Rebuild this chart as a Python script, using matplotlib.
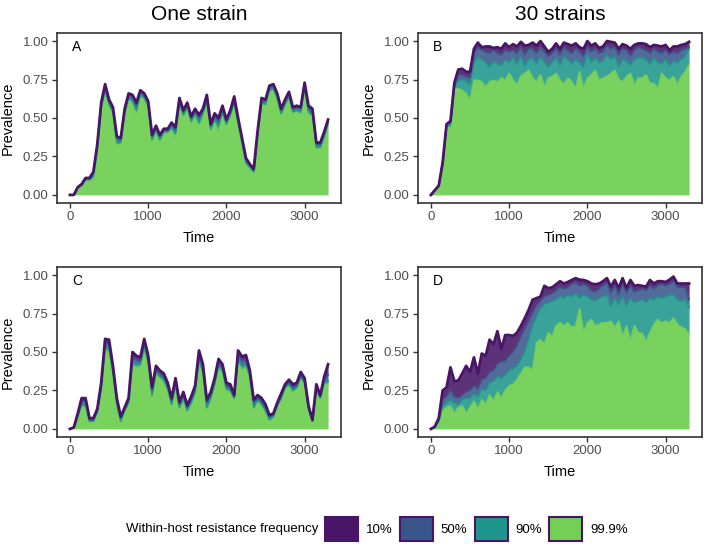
import numpy as np
import matplotlib.pyplot as plt
from matplotlib.patches import Patch

plt.rcParams['font.family'] = ['Liberation Sans', 'DejaVu Sans']

# time points (every 50 time units)
t = np.arange(0, 3301, 50)

freq_labels = ["10%", "50%", "90%", "99.9%"]
colors = ["#481567", "#39568C", "#1F968B", "#73D055"]

# panel A: one strain, top row
A10 = [0, 0, 0.05, 0.07, 0.11, 0.11, 0.15, 0.33, 0.60, 0.72,
       0.62, 0.57, 0.38, 0.37, 0.56, 0.66, 0.65, 0.60, 0.68, 0.66,
       0.61, 0.39, 0.45, 0.39, 0.43, 0.43, 0.47, 0.44, 0.63, 0.55,
       0.60, 0.51, 0.56, 0.52, 0.56, 0.65, 0.46, 0.53, 0.50, 0.58,
       0.49, 0.55, 0.64, 0.50, 0.37, 0.24, 0.20, 0.17, 0.42, 0.63,
       0.62, 0.71, 0.72, 0.66, 0.56, 0.62, 0.67, 0.57, 0.58, 0.57,
       0.73, 0.58, 0.56, 0.34, 0.34, 0.41, 0.49]
A50 = [0, 0, 0.05, 0.07, 0.11, 0.11, 0.14, 0.32, 0.59, 0.70,
       0.61, 0.56, 0.37, 0.36, 0.55, 0.65, 0.64, 0.58, 0.67, 0.65,
       0.60, 0.38, 0.44, 0.38, 0.42, 0.42, 0.46, 0.42, 0.62, 0.54,
       0.59, 0.50, 0.55, 0.50, 0.55, 0.63, 0.45, 0.51, 0.48, 0.56,
       0.48, 0.54, 0.62, 0.49, 0.36, 0.23, 0.19, 0.16, 0.41, 0.62,
       0.61, 0.70, 0.71, 0.65, 0.55, 0.61, 0.66, 0.56, 0.57, 0.56,
       0.72, 0.56, 0.55, 0.33, 0.33, 0.40, 0.48]
A90 = [0, 0, 0.05, 0.06, 0.10, 0.10, 0.12, 0.30, 0.57, 0.68,
       0.59, 0.54, 0.34, 0.34, 0.53, 0.63, 0.61, 0.55, 0.65, 0.63,
       0.58, 0.36, 0.42, 0.36, 0.41, 0.41, 0.44, 0.40, 0.60, 0.52,
       0.57, 0.48, 0.53, 0.47, 0.53, 0.61, 0.43, 0.49, 0.45, 0.54,
       0.46, 0.52, 0.60, 0.47, 0.34, 0.21, 0.18, 0.15, 0.39, 0.60,
       0.59, 0.68, 0.69, 0.63, 0.53, 0.59, 0.64, 0.54, 0.55, 0.54,
       0.70, 0.54, 0.53, 0.31, 0.31, 0.38, 0.47]
A999 = [0, 0, 0.04, 0.06, 0.09, 0.09, 0.10, 0.29, 0.55, 0.66,
        0.57, 0.52, 0.32, 0.33, 0.51, 0.62, 0.59, 0.52, 0.64, 0.62,
        0.57, 0.35, 0.41, 0.34, 0.40, 0.40, 0.42, 0.37, 0.58, 0.51,
        0.55, 0.46, 0.51, 0.45, 0.51, 0.60, 0.42, 0.47, 0.40, 0.52,
        0.45, 0.50, 0.59, 0.46, 0.33, 0.20, 0.17, 0.14, 0.38, 0.59,
        0.58, 0.67, 0.68, 0.62, 0.51, 0.57, 0.62, 0.53, 0.54, 0.52,
        0.68, 0.52, 0.51, 0.30, 0.30, 0.35, 0.46]

# panel B: 30 strains, top row
B10 = [0, 0.03, 0.06, 0.21, 0.46, 0.48, 0.73, 0.815, 0.82, 0.80,
       0.80, 0.95, 0.99, 0.96, 0.965, 0.965, 0.955, 0.96, 0.95, 0.985,
       0.96, 0.98, 0.965, 0.995, 0.97, 0.975, 0.99, 0.97, 1.0, 0.965,
       0.93, 0.95, 0.985, 0.95, 0.99, 0.98, 0.97, 0.985, 0.96, 0.95,
       1.0, 0.97, 0.985, 0.955, 0.965, 1.0, 0.995, 0.99, 0.95, 0.98,
       0.97, 0.95, 0.975, 0.985, 0.985, 0.98, 0.96, 0.975, 0.97, 0.965,
       0.975, 0.94, 0.965, 0.965, 0.975, 0.98, 0.995]
B50 = [0, 0.03, 0.06, 0.21, 0.46, 0.47, 0.71, 0.78, 0.78, 0.77,
       0.76, 0.92, 0.96, 0.94, 0.93, 0.92, 0.94, 0.92, 0.91, 0.94,
       0.93, 0.94, 0.92, 0.96, 0.91, 0.95, 0.95, 0.92, 0.96, 0.93,
       0.90, 0.92, 0.95, 0.91, 0.96, 0.94, 0.92, 0.95, 0.93, 0.90,
       0.96, 0.93, 0.95, 0.92, 0.93, 0.97, 0.95, 0.96, 0.91, 0.95,
       0.94, 0.90, 0.94, 0.96, 0.95, 0.94, 0.92, 0.95, 0.93, 0.92,
       0.94, 0.91, 0.93, 0.92, 0.94, 0.95, 0.96]
B90 = [0, 0.03, 0.06, 0.20, 0.45, 0.45, 0.70, 0.74, 0.75, 0.74,
       0.72, 0.85, 0.90, 0.88, 0.86, 0.83, 0.87, 0.85, 0.84, 0.88,
       0.86, 0.89, 0.85, 0.90, 0.84, 0.88, 0.89, 0.85, 0.90, 0.86,
       0.83, 0.86, 0.89, 0.84, 0.90, 0.88, 0.85, 0.88, 0.86, 0.83,
       0.91, 0.86, 0.89, 0.86, 0.87, 0.91, 0.88, 0.90, 0.83, 0.88,
       0.87, 0.84, 0.88, 0.89, 0.89, 0.88, 0.85, 0.89, 0.86, 0.85,
       0.88, 0.84, 0.87, 0.86, 0.88, 0.90, 0.95]
B999 = [0, 0.02, 0.05, 0.19, 0.44, 0.44, 0.69, 0.69, 0.68, 0.66,
        0.61, 0.745, 0.745, 0.735, 0.70, 0.735, 0.745, 0.735, 0.76, 0.745,
        0.79, 0.745, 0.715, 0.77, 0.79, 0.81, 0.76, 0.735, 0.78, 0.70,
        0.76, 0.77, 0.79, 0.745, 0.72, 0.76, 0.735, 0.69, 0.80, 0.69,
        0.76, 0.78, 0.81, 0.745, 0.76, 0.77, 0.79, 0.81, 0.75, 0.735,
        0.77, 0.79, 0.715, 0.76, 0.76, 0.78, 0.725, 0.725, 0.69, 0.79,
        0.76, 0.745, 0.77, 0.715, 0.77, 0.80, 0.85]

# panel C: one strain, bottom row
C10 = [0, 0.01, 0.10, 0.20, 0.20, 0.07, 0.07, 0.13, 0.30, 0.585,
       0.58, 0.41, 0.20, 0.08, 0.14, 0.20, 0.50, 0.475, 0.465, 0.585,
       0.48, 0.27, 0.41, 0.38, 0.36, 0.30, 0.20, 0.33, 0.175, 0.24,
       0.155, 0.21, 0.28, 0.51, 0.42, 0.19, 0.24, 0.33, 0.455, 0.42,
       0.30, 0.29, 0.22, 0.51, 0.47, 0.48, 0.38, 0.19, 0.22, 0.20,
       0.16, 0.09, 0.10, 0.17, 0.23, 0.29, 0.32, 0.29, 0.30, 0.37,
       0.33, 0.15, 0.06, 0.29, 0.22, 0.34, 0.42]
C50 = [0, 0.01, 0.09, 0.18, 0.18, 0.06, 0.06, 0.12, 0.28, 0.56,
       0.55, 0.39, 0.18, 0.07, 0.13, 0.19, 0.47, 0.45, 0.44, 0.56,
       0.46, 0.25, 0.39, 0.36, 0.34, 0.28, 0.18, 0.31, 0.16, 0.22,
       0.14, 0.19, 0.26, 0.48, 0.40, 0.17, 0.22, 0.31, 0.43, 0.40,
       0.28, 0.27, 0.21, 0.48, 0.44, 0.45, 0.36, 0.17, 0.20, 0.18,
       0.14, 0.08, 0.09, 0.16, 0.21, 0.28, 0.30, 0.27, 0.28, 0.35,
       0.31, 0.14, 0.05, 0.27, 0.21, 0.32, 0.35]
C90 = [0, 0.01, 0.08, 0.16, 0.16, 0.05, 0.05, 0.11, 0.26, 0.53,
       0.52, 0.37, 0.16, 0.05, 0.12, 0.17, 0.44, 0.42, 0.42, 0.53,
       0.44, 0.22, 0.37, 0.34, 0.32, 0.26, 0.16, 0.29, 0.14, 0.20,
       0.12, 0.17, 0.24, 0.45, 0.37, 0.14, 0.20, 0.29, 0.41, 0.38,
       0.26, 0.25, 0.20, 0.45, 0.41, 0.42, 0.34, 0.14, 0.19, 0.16,
       0.12, 0.06, 0.08, 0.15, 0.20, 0.27, 0.29, 0.25, 0.27, 0.34,
       0.30, 0.13, 0.05, 0.26, 0.20, 0.30, 0.31]
C999 = [0, 0.01, 0.07, 0.14, 0.14, 0.04, 0.05, 0.10, 0.24, 0.51,
        0.50, 0.35, 0.14, 0.04, 0.11, 0.16, 0.41, 0.40, 0.40, 0.51,
        0.42, 0.20, 0.35, 0.33, 0.30, 0.24, 0.15, 0.27, 0.13, 0.18,
        0.11, 0.16, 0.22, 0.42, 0.35, 0.12, 0.18, 0.27, 0.39, 0.36,
        0.25, 0.24, 0.19, 0.43, 0.38, 0.40, 0.32, 0.12, 0.18, 0.15,
        0.11, 0.05, 0.07, 0.14, 0.19, 0.26, 0.28, 0.24, 0.26, 0.33,
        0.29, 0.12, 0.05, 0.25, 0.19, 0.29, 0.29]

# panel D: 30 strains, bottom row
D10 = [0, 0.015, 0.07, 0.25, 0.27, 0.40, 0.31, 0.315, 0.36, 0.41,
       0.37, 0.465, 0.36, 0.49, 0.475, 0.58, 0.55, 0.635, 0.52, 0.61,
       0.61, 0.605, 0.625, 0.67, 0.72, 0.775, 0.84, 0.85, 0.86, 0.93,
       0.915, 0.92, 0.94, 0.96, 0.945, 0.955, 0.968, 0.98, 0.97, 0.968,
       0.96, 0.945, 0.94, 0.945, 0.96, 0.98, 0.925, 0.968, 0.915, 0.98,
       0.915, 0.968, 0.93, 0.935, 0.93, 0.925, 0.968, 0.945, 0.96, 0.96,
       0.955, 0.97, 0.99, 0.945, 0.945, 0.945, 0.945]
D50 = [0, 0.015, 0.06, 0.19, 0.21, 0.25, 0.21, 0.20, 0.22, 0.24,
       0.25, 0.28, 0.26, 0.32, 0.33, 0.37, 0.38, 0.42, 0.44, 0.44,
       0.475, 0.50, 0.54, 0.60, 0.65, 0.70, 0.755, 0.80, 0.83, 0.86,
       0.87, 0.88, 0.90, 0.92, 0.91, 0.92, 0.94, 0.95, 0.93, 0.94,
       0.93, 0.90, 0.89, 0.91, 0.93, 0.95, 0.88, 0.93, 0.87, 0.94,
       0.88, 0.93, 0.89, 0.90, 0.91, 0.90, 0.93, 0.91, 0.93, 0.94,
       0.93, 0.94, 0.96, 0.92, 0.92, 0.92, 0.84]
D90 = [0, 0.01, 0.05, 0.15, 0.17, 0.19, 0.17, 0.16, 0.19, 0.20,
       0.20, 0.23, 0.21, 0.26, 0.25, 0.30, 0.31, 0.34, 0.33, 0.35,
       0.38, 0.39, 0.41, 0.45, 0.50, 0.58, 0.67, 0.73, 0.78, 0.81,
       0.82, 0.83, 0.84, 0.86, 0.85, 0.87, 0.86, 0.88, 0.85, 0.87,
       0.86, 0.84, 0.83, 0.85, 0.86, 0.87, 0.80, 0.85, 0.81, 0.86,
       0.80, 0.85, 0.82, 0.83, 0.84, 0.82, 0.85, 0.84, 0.86, 0.85,
       0.86, 0.87, 0.87, 0.84, 0.83, 0.84, 0.79]
D999 = [0, 0.01, 0.04, 0.12, 0.14, 0.15, 0.10, 0.14, 0.15, 0.10,
        0.14, 0.18, 0.13, 0.19, 0.16, 0.22, 0.18, 0.24, 0.20, 0.25,
        0.28, 0.29, 0.32, 0.36, 0.40, 0.40, 0.38, 0.56, 0.58, 0.55,
        0.625, 0.60, 0.67, 0.69, 0.67, 0.69, 0.66, 0.67, 0.78, 0.625,
        0.69, 0.71, 0.67, 0.68, 0.69, 0.69, 0.70, 0.66, 0.70, 0.60,
        0.67, 0.57, 0.67, 0.625, 0.62, 0.57, 0.625, 0.68, 0.71, 0.69,
        0.70, 0.69, 0.72, 0.68, 0.66, 0.65, 0.615]

panels = {
    "A": [A10, A50, A90, A999],
    "B": [B10, B50, B90, B999],
    "C": [C10, C50, C90, C999],
    "D": [D10, D50, D90, D999],
}

W, H = 706, 549
fig = plt.figure(figsize=(W / 100, H / 100), dpi=100)

# axes boxes in pixels: left, top, right, bottom
boxes = {"A": (57, 33, 341, 203), "B": (418, 33, 702, 203),
         "C": (57, 267, 341, 437), "D": (418, 267, 702, 437)}


def draw_panel(ax, series, letter):
    n = len(series)
    for i in range(n):
        upper = np.array(series[i])
        lower = np.array(series[i + 1]) if i + 1 < n else np.zeros(len(t))
        ax.fill_between(t, lower, upper, color=colors[i],
                        alpha=0.95 if i == n - 1 else 0.88, lw=0)
    for i in reversed(range(n)):
        ax.plot(t, series[i], color=colors[i], lw=2.0 if i == 0 else 1.3,
                alpha=0.9 if i else 1.0, solid_joinstyle='round')
    ax.set_xlim(-165, 3465)
    ax.set_ylim(-0.0525, 1.0525)
    ax.set_xticks([0, 1000, 2000, 3000])
    ax.set_yticks([0, 0.25, 0.5, 0.75, 1.0])
    ax.set_yticklabels(["0.00", "0.25", "0.50", "0.75", "1.00"])
    ax.tick_params(colors="#333333", labelcolor="#4D4D4D", labelsize=9.5,
                   length=3.5, width=1.0, pad=2.5)
    for s in ax.spines.values():
        s.set_color("#333333")
        s.set_linewidth(1.2)
    ax.set_xlabel("Time", fontsize=10.5)
    ax.set_ylabel("Prevalence", fontsize=10.5)
    ax.xaxis.set_label_coords(0.5, -0.165)
    ax.yaxis.set_label_coords(-0.15, 0.5)
    ax.text(0.053, 0.915, letter, transform=ax.transAxes, fontsize=10,
            va="center", ha="left")


for letter, (l, tp, r, b) in boxes.items():
    ax = fig.add_axes([l / W, 1 - b / H, (r - l) / W, (b - tp) / H])
    draw_panel(ax, panels[letter], letter)

fig.text(199 / W, 1 - 14 / H, "One strain", fontsize=15, ha="center", va="center")
fig.text(560 / W, 1 - 14 / H, "30 strains", fontsize=15, ha="center", va="center")

# legend
fig.text(126 / W, 1 - 529 / H, "Within-host resistance frequency", fontsize=9.5,
         ha="left", va="center")
handles = [Patch(facecolor=c, edgecolor="#481567", lw=1.5) for c in colors]
fig.legend(handles, freq_labels, loc="center left",
           bbox_to_anchor=(325 / W, 1 - 529 / H), ncol=4, frameon=False,
           fontsize=9.5, handlelength=2.5, handleheight=2.5,
           handletextpad=0.6, columnspacing=0.55, borderpad=0,
           borderaxespad=0)

fig.savefig("out.png", dpi=100)
